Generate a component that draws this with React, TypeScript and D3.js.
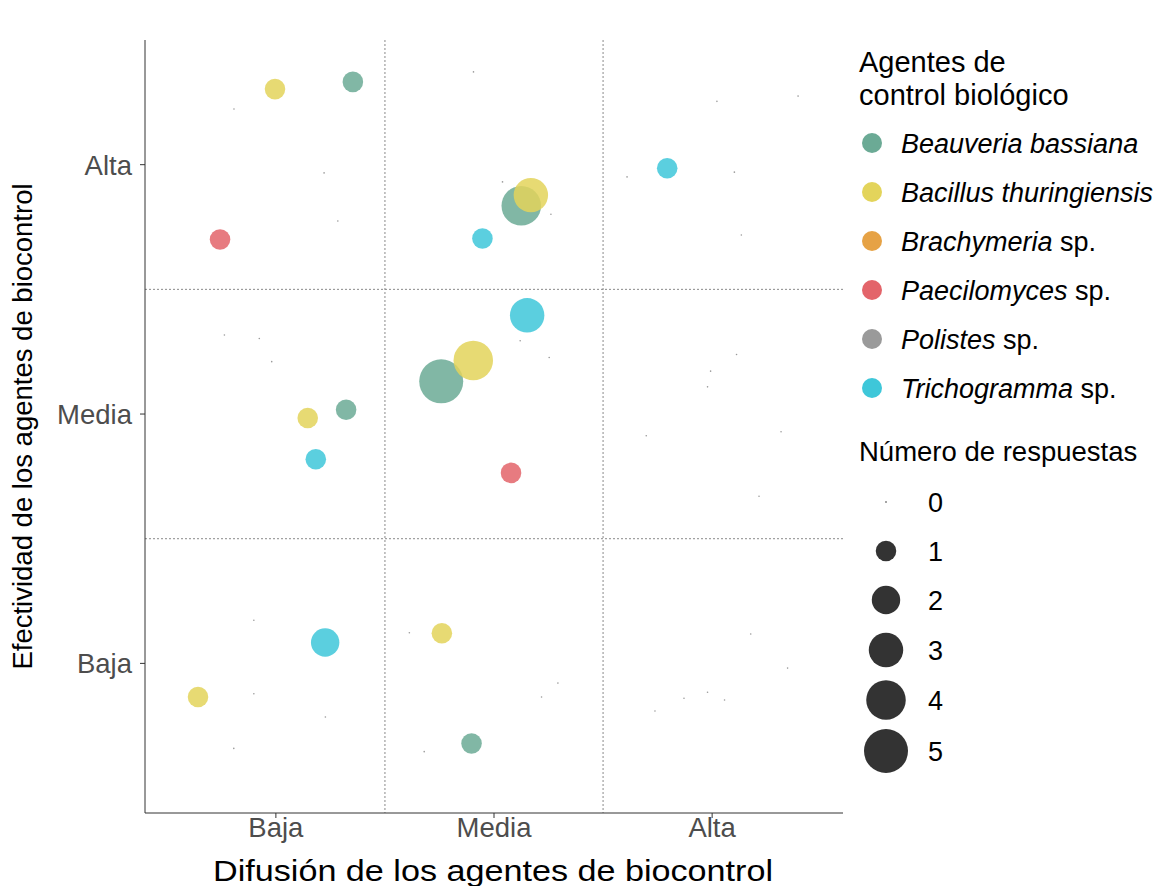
import React from "react";
import * as d3 from "d3";

// Category labels for both axes
const levels = ["Baja", "Media", "Alta"];
const levelCenters = [0.5, 1.5, 2.5];
const cellBreaks = [1, 2];

// Species (italic part + roman suffix) and colours
const speciesItalic = ["Beauveria bassiana", "Bacillus thuringiensis", "Brachymeria", "Paecilomyces", "Polistes", "Trichogramma"];
const speciesSuffix = ["", "", " sp.", " sp.", " sp.", " sp."];
const speciesColors = ["#6BAA95", "#E3D45B", "#E6A245", "#E3646A", "#9A9A9A", "#3EC7D9"];

// Points per species: [difusión (jittered), efectividad (jittered), número de respuestas]
const beauveria: [number, number, number][] = [
  [0.853, 2.832, 1], [1.625, 2.335, 4], [2.522, 2.754, 0],
  [0.822, 1.517, 1], [1.258, 1.631, 5], [2.612, 1.739, 0],
  [0.399, 0.673, 0], [1.397, 0.179, 1], [2.677, 0.618, 0],
];
const bacillus: [number, number, number][] = [
  [0.496, 2.803, 1], [1.669, 2.378, 3], [2.894, 2.775, 0],
  [0.646, 1.484, 1], [1.405, 1.715, 4], [2.493, 1.672, 0],
  [0.143, 0.365, 1], [1.261, 0.621, 1], [2.846, 0.481, 0],
];
const brachymeria: [number, number, number][] = [
  [0.308, 2.723, 0], [1.406, 2.872, 0], [2.110, 2.451, 0],
  [0.264, 1.817, 0], [1.620, 1.794, 0], [2.479, 1.609, 0],
  [0.399, 0.378, 0], [1.112, 0.623, 0], [2.479, 0.384, 0],
];
const paecilomyces: [number, number, number][] = [
  [0.244, 2.200, 1], [1.539, 2.431, 0], [2.602, 2.470, 0],
  [0.424, 1.803, 0], [1.578, 1.264, 1], [2.198, 1.413, 0],
  [0.727, 0.285, 0], [1.793, 0.421, 0], [2.371, 0.360, 0],
];
const polistes: [number, number, number][] = [
  [0.721, 2.467, 0], [1.761, 2.301, 0], [2.634, 2.218, 0],
  [0.481, 1.710, 0], [1.753, 1.727, 0], [2.816, 1.429, 0],
  [0.307, 0.159, 0], [1.718, 0.365, 0], [2.557, 0.353, 0],
];
const trichogramma: [number, number, number][] = [
  [0.784, 2.274, 0], [1.447, 2.204, 1], [2.294, 2.486, 1],
  [0.683, 1.319, 1], [1.652, 1.896, 3], [2.715, 1.170, 0],
  [0.726, 0.584, 2], [1.180, 0.146, 0], [2.238, 0.309, 0],
];
const seriesList = [beauveria, bacillus, brachymeria, paecilomyces, polistes, trichogramma];

// Size legend values
const sizeLegend = [0, 1, 2, 3, 4, 5];

const FONT = "'Liberation Sans', Arial, Helvetica, sans-serif";

export default function App() {
  const W = 1157, H = 886;
  const left = 145, right = 843, top = 40, bottom = 813;
  const x = d3.scaleLinear().domain([-0.1, 3.1]).range([left, right]);
  const y = d3.scaleLinear().domain([-0.1, 3.0]).range([bottom, top]);
  const r = d3.scaleSqrt().domain([0, 5]).range([0.8, 22]);

  const legendItemY = d3.scalePoint<number>().domain(d3.range(6)).range([143, 388]);
  const sizeKeyY = [502, 551, 600, 650, 700, 751];

  return (
    <svg width={W} height={H} style={{ position: "absolute", left: 0, top: 0, background: "#fff" }} fontFamily={FONT}>
      {/* dotted separators */}
      {cellBreaks.map((b) => (
        <line key={"vx" + b} x1={x(b)} x2={x(b)} y1={top} y2={bottom} stroke="#8a8a8a" strokeWidth={1} strokeDasharray="2,2" />
      ))}
      {cellBreaks.map((b) => (
        <line key={"hy" + b} x1={left} x2={right} y1={y(b)} y2={y(b)} stroke="#8a8a8a" strokeWidth={1} strokeDasharray="2,2" />
      ))}

      {/* points */}
      {seriesList.map((s, si) =>
        s.map((p, pi) => (
          <circle key={si + "-" + pi} cx={x(p[0])} cy={y(p[1])} r={r(p[2])}
            fill={p[2] === 0 ? "#555" : speciesColors[si]} fillOpacity={p[2] === 0 ? 0.6 : 0.85} />
        ))
      )}

      {/* axes */}
      <line x1={left} x2={left} y1={top} y2={bottom} stroke="#333" strokeWidth={1} />
      <line x1={left} x2={right} y1={bottom} y2={bottom} stroke="#333" strokeWidth={1} />
      {levelCenters.map((c, i) => (
        <g key={"xt" + i}>
          <line x1={x(c)} x2={x(c)} y1={bottom} y2={bottom + 5} stroke="#333" />
          <text x={x(c)} y={837} textAnchor="middle" fontSize={27.5} fill="#4d4d4d">{levels[i]}</text>
        </g>
      ))}
      {levelCenters.map((c, i) => (
        <g key={"yt" + i}>
          <line x1={left - 5} x2={left} y1={y(c)} y2={y(c)} stroke="#333" />
          <text x={132} y={y(c)} dy="0.36em" textAnchor="end" fontSize={27.5} fill="#4d4d4d">{levels[i]}</text>
        </g>
      ))}
      <text x={(left + right) / 2 - 1} y={881} textAnchor="middle" fontSize={30} fill="#000"
        textLength={560} lengthAdjust="spacingAndGlyphs">Difusión de los agentes de biocontrol</text>
      <text transform={`translate(32,${(top + bottom) / 2}) rotate(-90)`} textAnchor="middle" fontSize={27.5} fill="#000">Efectividad de los agentes de biocontrol</text>

      {/* colour legend */}
      <text x={859} y={72} fontSize={29} fill="#000">Agentes de</text>
      <text x={859} y={105} fontSize={29} fill="#000">control biológico</text>
      {speciesItalic.map((name, i) => (
        <g key={"lg" + i}>
          <circle cx={872} cy={legendItemY(i)} r={10} fill={speciesColors[i]} />
          <text x={901} y={legendItemY(i)} dy="0.36em" fontSize={27} fill="#000">
            <tspan fontStyle="italic">{name}</tspan>
            {speciesSuffix[i] && <tspan>{speciesSuffix[i]}</tspan>}
          </text>
        </g>
      ))}

      {/* size legend */}
      <text x={859} y={461} fontSize={27.5} fill="#000">Número de respuestas</text>
      {sizeLegend.map((v, i) => (
        <g key={"sz" + i}>
          <circle cx={886} cy={sizeKeyY[i]} r={r(v)} fill="#333" />
          <text x={928} y={sizeKeyY[i]} dy="0.36em" fontSize={27} fill="#000">{v}</text>
        </g>
      ))}
    </svg>
  );
}
